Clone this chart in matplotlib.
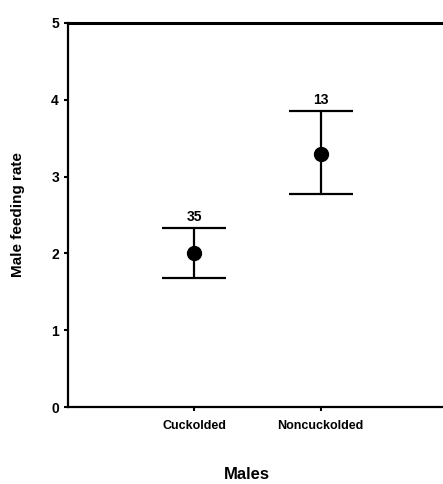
import matplotlib.pyplot as plt

# Data
groups = ['Cuckolded', 'Noncuckolded']
means = [2.0, 3.29]
upper = [2.33, 3.85]
lower = [1.68, 2.77]
sample_sizes = ['35', '13']

plt.rcParams['font.family'] = ['Liberation Sans Narrow', 'Liberation Sans', 'DejaVu Sans']
plt.rcParams['font.weight'] = 'bold'

fig = plt.figure(figsize=(4.43, 4.84), dpi=100)
ax = fig.add_axes([0.1535, 0.159, 0.87, 0.7935])

xpos = [1, 2]
yerr = [[m - lo for m, lo in zip(means, lower)], [up - m for m, up in zip(means, upper)]]
ax.errorbar(xpos, means, yerr=yerr, fmt='o', color='black', ecolor='black',
            markersize=10, elinewidth=1.6, capsize=23, capthick=1.6)

for x, up, n in zip(xpos, upper, sample_sizes):
    ax.text(x, up + 0.05, n, ha='center', va='bottom', fontsize=10, fontweight='bold')

ax.set_xlim(0, 3.05)
ax.set_ylim(0, 5)
ax.set_yticks([0, 1, 2, 3, 4, 5])
ax.set_xticks(xpos)
ax.set_xticklabels(groups, fontsize=9, fontweight='bold')
ax.tick_params(axis='y', labelsize=10, length=3, width=1.5, direction='out')
ax.tick_params(axis='x', length=3, width=1.5, direction='out', pad=6)

for side in ['left', 'bottom']:
    ax.spines[side].set_linewidth(1.6)
ax.spines['top'].set_linewidth(2.2)
ax.spines['right'].set_visible(False)

ax.set_ylabel('Male feeding rate', fontsize=11, fontweight='bold', labelpad=19)
ax.set_xlabel('Males', fontsize=12, fontweight='bold', labelpad=23)
ax.xaxis.set_label_coords(0.465, -0.155)

fig.savefig('out.png', dpi=100)
